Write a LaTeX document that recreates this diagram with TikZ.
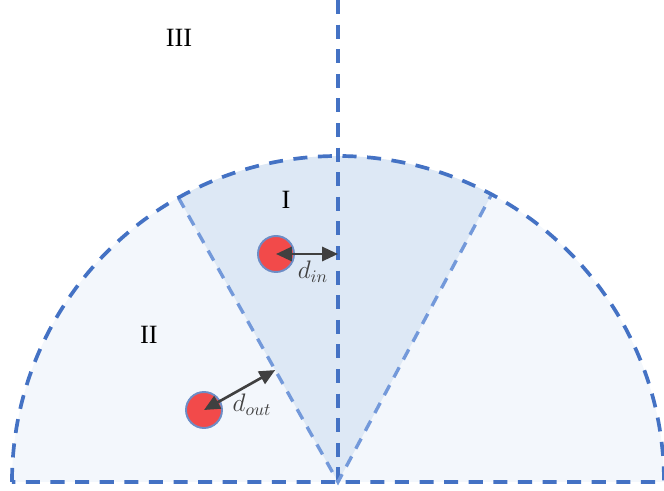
\documentclass[tikz,border=0pt]{standalone}
\usepackage{fontspec}
\setmainfont{Liberation Serif}
\usetikzlibrary{arrows.meta,calc}
\definecolor{rimBlue}{HTML}{4472C4}
\definecolor{edgeBlue}{HTML}{7399DA}
\definecolor{discFill}{HTML}{F3F7FC}
\definecolor{wedgeFill}{HTML}{DDE8F5}
\definecolor{ballRed}{HTML}{F24A4A}
\definecolor{ballRim}{HTML}{6D8DC6}
\definecolor{arrowGrey}{HTML}{404040}

\begin{document}
\begin{tikzpicture}[
  rim/.style={rimBlue,line width=2.1pt,dash pattern=on 8pt off 6pt},
  edge/.style={edgeBlue,line width=1.9pt,dash pattern=on 6.5pt off 5pt},
  ball/.style={circle,fill=ballRed,draw=ballRim,line width=1.1pt,minimum size=0.72cm,inner sep=0pt},
  gap/.style={arrowGrey,line width=1.5pt,{Triangle[length=9pt,width=8pt]}-{Triangle[length=9pt,width=8pt]}},
  region/.style={font=\fontsize{15}{18}\selectfont},
  dist/.style={arrowGrey,font=\Large}]
  \useasboundingbox (-6.76,-0.18) rectangle (6.52,9.64);
  \coordinate (o) at (0,0);
  \coordinate (top) at (0,9.64);
  \coordinate (wl) at (119.3:6.52);
  \coordinate (wr) at (61.9:6.52);
  % half disc and the inner wedge
  \fill[discFill] (6.52,0) arc (0:180:6.52) -- cycle;
  \fill[wedgeFill] (o) -- (wr) arc (61.9:119.3:6.52) -- cycle;
  \draw[rim] (top) -- (o);
  \draw[edge] (wl) -- (o) -- (wr);
  \draw[rim] (-6.52,0) arc (180:0:6.52) -- cycle;
  % regions
  \node[region] (r1) at (-1.04,5.64) {I};
  \node[region] (r2) at (-3.78,2.94) {II};
  \node[region] (r3) at (-3.18,8.88) {III};
  % particles
  \node[ball] (pin) at (-1.24,4.56) {};
  \node[ball] (pout) at (-2.68,1.44) {};
  \coordinate (fin) at (pin.center -| o);
  \coordinate (fout) at ($(o)!(pout.center)!(wl)$);
  \draw[gap] (pin.center) -- (fin);
  \draw[gap] (pout.center) -- (fout);
  \node[dist] (din) at (-0.5,4.2) {$d_{in}$};
  \node[dist] (dout) at (-1.72,1.54) {$d_{out}$};
\end{tikzpicture}
\end{document}
